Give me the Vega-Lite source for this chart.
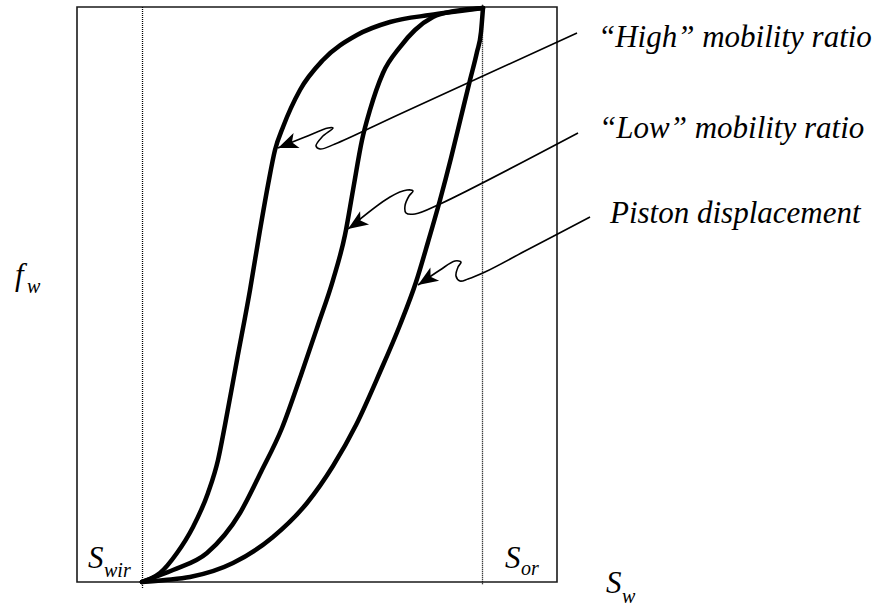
{
  "$schema": "https://vega.github.io/schema/vega-lite/v6.json",
  "width": 480,
  "height": 575,
  "autosize": "none",
  "padding": {"left": 77, "top": 7, "right": 322, "bottom": 26},
  "background": "white",
  "config": {"view": {"stroke": "#1a1a1a", "strokeWidth": 1.6}},
  "datasets": {
    "curves": [
      {"c": "high", "Sw": 0.1354, "fw": 0},
      {"c": "high", "Sw": 0.1521, "fw": 0.0052},
      {"c": "high", "Sw": 0.1729, "fw": 0.0157},
      {"c": "high", "Sw": 0.2083, "fw": 0.0504},
      {"c": "high", "Sw": 0.2417, "fw": 0.0957},
      {"c": "high", "Sw": 0.2729, "fw": 0.1548},
      {"c": "high", "Sw": 0.2938, "fw": 0.2122},
      {"c": "high", "Sw": 0.3083, "fw": 0.273},
      {"c": "high", "Sw": 0.3333, "fw": 0.3861},
      {"c": "high", "Sw": 0.3604, "fw": 0.5078},
      {"c": "high", "Sw": 0.3813, "fw": 0.6122},
      {"c": "high", "Sw": 0.3979, "fw": 0.6904},
      {"c": "high", "Sw": 0.4125, "fw": 0.7513},
      {"c": "high", "Sw": 0.4292, "fw": 0.7913},
      {"c": "high", "Sw": 0.4646, "fw": 0.8557},
      {"c": "high", "Sw": 0.5125, "fw": 0.9078},
      {"c": "high", "Sw": 0.5833, "fw": 0.9513},
      {"c": "high", "Sw": 0.6521, "fw": 0.9739},
      {"c": "high", "Sw": 0.7354, "fw": 0.9861},
      {"c": "high", "Sw": 0.7979, "fw": 0.993},
      {"c": "high", "Sw": 0.8458, "fw": 0.9983},
      {"c": "low", "Sw": 0.1354, "fw": 0},
      {"c": "low", "Sw": 0.1625, "fw": 0.0087},
      {"c": "low", "Sw": 0.2, "fw": 0.0209},
      {"c": "low", "Sw": 0.2708, "fw": 0.0504},
      {"c": "low", "Sw": 0.3396, "fw": 0.12},
      {"c": "low", "Sw": 0.3833, "fw": 0.1913},
      {"c": "low", "Sw": 0.4271, "fw": 0.2678},
      {"c": "low", "Sw": 0.4667, "fw": 0.36},
      {"c": "low", "Sw": 0.5021, "fw": 0.447},
      {"c": "low", "Sw": 0.5333, "fw": 0.5252},
      {"c": "low", "Sw": 0.5583, "fw": 0.6035},
      {"c": "low", "Sw": 0.575, "fw": 0.6817},
      {"c": "low", "Sw": 0.5938, "fw": 0.7687},
      {"c": "low", "Sw": 0.6104, "fw": 0.8209},
      {"c": "low", "Sw": 0.6375, "fw": 0.8852},
      {"c": "low", "Sw": 0.6729, "fw": 0.9304},
      {"c": "low", "Sw": 0.7042, "fw": 0.96},
      {"c": "low", "Sw": 0.7417, "fw": 0.9826},
      {"c": "low", "Sw": 0.7875, "fw": 0.993},
      {"c": "low", "Sw": 0.8458, "fw": 0.9983},
      {"c": "piston", "Sw": 0.1354, "fw": 0},
      {"c": "piston", "Sw": 0.1833, "fw": 0.0035},
      {"c": "piston", "Sw": 0.2354, "fw": 0.0087},
      {"c": "piston", "Sw": 0.325, "fw": 0.033},
      {"c": "piston", "Sw": 0.4083, "fw": 0.0783},
      {"c": "piston", "Sw": 0.4792, "fw": 0.1374},
      {"c": "piston", "Sw": 0.5333, "fw": 0.2017},
      {"c": "piston", "Sw": 0.5813, "fw": 0.273},
      {"c": "piston", "Sw": 0.6313, "fw": 0.3652},
      {"c": "piston", "Sw": 0.6729, "fw": 0.447},
      {"c": "piston", "Sw": 0.7063, "fw": 0.5217},
      {"c": "piston", "Sw": 0.7313, "fw": 0.5913},
      {"c": "piston", "Sw": 0.7563, "fw": 0.6643},
      {"c": "piston", "Sw": 0.7792, "fw": 0.7374},
      {"c": "piston", "Sw": 0.8, "fw": 0.8087},
      {"c": "piston", "Sw": 0.8188, "fw": 0.873},
      {"c": "piston", "Sw": 0.8333, "fw": 0.9217},
      {"c": "piston", "Sw": 0.8417, "fw": 0.9565},
      {"c": "piston", "Sw": 0.8458, "fw": 0.9983}
    ],
    "arrows": [
      {"a": "high", "i": 0, "Sw": 1.0417, "fw": 0.9548},
      {"a": "high", "i": 1, "Sw": 0.6729, "fw": 0.8139},
      {"a": "high", "i": 2, "Sw": 0.5375, "fw": 0.7617},
      {"a": "high", "i": 3, "Sw": 0.5063, "fw": 0.753},
      {"a": "high", "i": 4, "Sw": 0.4979, "fw": 0.7583},
      {"a": "high", "i": 5, "Sw": 0.5104, "fw": 0.7739},
      {"a": "high", "i": 6, "Sw": 0.5333, "fw": 0.7896},
      {"a": "high", "i": 7, "Sw": 0.5229, "fw": 0.7896},
      {"a": "high", "i": 8, "Sw": 0.475, "fw": 0.7739},
      {"a": "high", "i": 9, "Sw": 0.4188, "fw": 0.7548},
      {"a": "low", "i": 0, "Sw": 1.0438, "fw": 0.7809},
      {"a": "low", "i": 1, "Sw": 0.7563, "fw": 0.6574},
      {"a": "low", "i": 2, "Sw": 0.7042, "fw": 0.64},
      {"a": "low", "i": 3, "Sw": 0.6854, "fw": 0.6417},
      {"a": "low", "i": 4, "Sw": 0.6833, "fw": 0.6539},
      {"a": "low", "i": 5, "Sw": 0.6917, "fw": 0.6713},
      {"a": "low", "i": 6, "Sw": 0.7, "fw": 0.68},
      {"a": "low", "i": 7, "Sw": 0.6875, "fw": 0.6817},
      {"a": "low", "i": 8, "Sw": 0.6521, "fw": 0.6696},
      {"a": "low", "i": 9, "Sw": 0.5646, "fw": 0.6139},
      {"a": "piston", "i": 0, "Sw": 1.0688, "fw": 0.6348},
      {"a": "piston", "i": 1, "Sw": 0.9375, "fw": 0.5774},
      {"a": "piston", "i": 2, "Sw": 0.85, "fw": 0.5391},
      {"a": "piston", "i": 3, "Sw": 0.8146, "fw": 0.527},
      {"a": "piston", "i": 4, "Sw": 0.7979, "fw": 0.5235},
      {"a": "piston", "i": 5, "Sw": 0.7896, "fw": 0.5322},
      {"a": "piston", "i": 6, "Sw": 0.7938, "fw": 0.5478},
      {"a": "piston", "i": 7, "Sw": 0.8, "fw": 0.5565},
      {"a": "piston", "i": 8, "Sw": 0.7875, "fw": 0.5583},
      {"a": "piston", "i": 9, "Sw": 0.7563, "fw": 0.5426},
      {"a": "piston", "i": 10, "Sw": 0.7104, "fw": 0.5165}
    ],
    "tips": [
      {"a": "high", "Sw": 0.4188, "fw": 0.7548},
      {"a": "low", "Sw": 0.5646, "fw": 0.6139},
      {"a": "piston", "Sw": 0.7104, "fw": 0.5165}
    ],
    "limits": [
      {"name": "Swir", "Sw": 0.1365, "fTop": 1, "fBot": -0.0104},
      {"name": "Sor", "Sw": 0.8448, "fTop": 1.004, "fBot": -0.0052}
    ],
    "texts": [
      {"k": "label", "t": "“High” mobility ratio", "Sw": 1.0854, "fw": 0.9304},
      {"k": "label", "t": "“Low” mobility ratio", "Sw": 1.0875, "fw": 0.7722},
      {"k": "label", "t": "Piston displacement", "Sw": 1.1104, "fw": 0.6243},
      {"k": "sym", "t": "f", "Sw": -0.1292, "fw": 0.5165},
      {"k": "sub", "t": "w", "Sw": -0.1042, "fw": 0.5026},
      {"k": "sym", "t": "S", "Sw": 0.0229, "fw": 0.0243},
      {"k": "sub", "t": "wir", "Sw": 0.0563, "fw": 0.0087},
      {"k": "sym", "t": "S", "Sw": 0.8917, "fw": 0.0243},
      {"k": "sub", "t": "or", "Sw": 0.925, "fw": 0.0122},
      {"k": "sym", "t": "S", "Sw": 1.1021, "fw": -0.0191},
      {"k": "sub", "t": "w", "Sw": 1.1354, "fw": -0.0365}
    ]
  },
  "encoding": {
    "x": {"field": "Sw", "type": "quantitative", "scale": {"domain": [0, 1], "nice": false, "zero": false}, "axis": null},
    "y": {"field": "fw", "type": "quantitative", "scale": {"domain": [0, 1], "nice": false, "zero": false}, "axis": null}
  },
  "layer": [
    {
      "data": {"name": "limits"},
      "mark": {"type": "rule", "color": "black", "strokeWidth": 1.3, "strokeDash": [1, 1]},
      "encoding": {
        "y": {"field": "fTop", "type": "quantitative"},
        "y2": {"field": "fBot"}
      }
    },
    {
      "data": {"name": "curves"},
      "mark": {"type": "line", "color": "black", "strokeWidth": 4.5, "interpolate": "monotone", "strokeCap": "round"},
      "encoding": {"detail": {"field": "c"}}
    },
    {
      "data": {"name": "arrows"},
      "mark": {"type": "line", "color": "black", "strokeWidth": 1.6, "interpolate": "catmull-rom"},
      "encoding": {"detail": {"field": "a"}, "order": {"field": "i", "type": "quantitative"}}
    },
    {
      "data": {"name": "tips"},
      "transform": [{"filter": "datum.a === 'high'"}],
      "mark": {"type": "point", "shape": "M0,0 L2,-0.8 L1.5,0 L2,0.8 Z", "size": 400, "filled": true, "color": "black", "opacity": 1, "strokeWidth": 0, "angle": -22}
    },
    {
      "data": {"name": "tips"},
      "transform": [{"filter": "datum.a === 'low'"}],
      "mark": {"type": "point", "shape": "M0,0 L2,-0.8 L1.5,0 L2,0.8 Z", "size": 400, "filled": true, "color": "black", "opacity": 1, "strokeWidth": 0, "angle": -34}
    },
    {
      "data": {"name": "tips"},
      "transform": [{"filter": "datum.a === 'piston'"}],
      "mark": {"type": "point", "shape": "M0,0 L2,-0.8 L1.5,0 L2,0.8 Z", "size": 400, "filled": true, "color": "black", "opacity": 1, "strokeWidth": 0, "angle": -33}
    },
    {
      "data": {"name": "texts"},
      "transform": [{"filter": "datum.k === 'label'"}],
      "mark": {"type": "text", "font": "Liberation Serif", "fontStyle": "italic", "fontSize": 31, "align": "left", "baseline": "alphabetic", "color": "black"},
      "encoding": {"text": {"field": "t"}}
    },
    {
      "data": {"name": "texts"},
      "transform": [{"filter": "datum.k === 'sym'"}],
      "mark": {"type": "text", "font": "Liberation Serif", "fontStyle": "italic", "fontSize": 31, "align": "left", "baseline": "alphabetic", "color": "black"},
      "encoding": {"text": {"field": "t"}}
    },
    {
      "data": {"name": "texts"},
      "transform": [{"filter": "datum.k === 'sub'"}],
      "mark": {"type": "text", "font": "Liberation Serif", "fontStyle": "italic", "fontSize": 20, "align": "left", "baseline": "alphabetic", "color": "black"},
      "encoding": {"text": {"field": "t"}}
    }
  ]
}
